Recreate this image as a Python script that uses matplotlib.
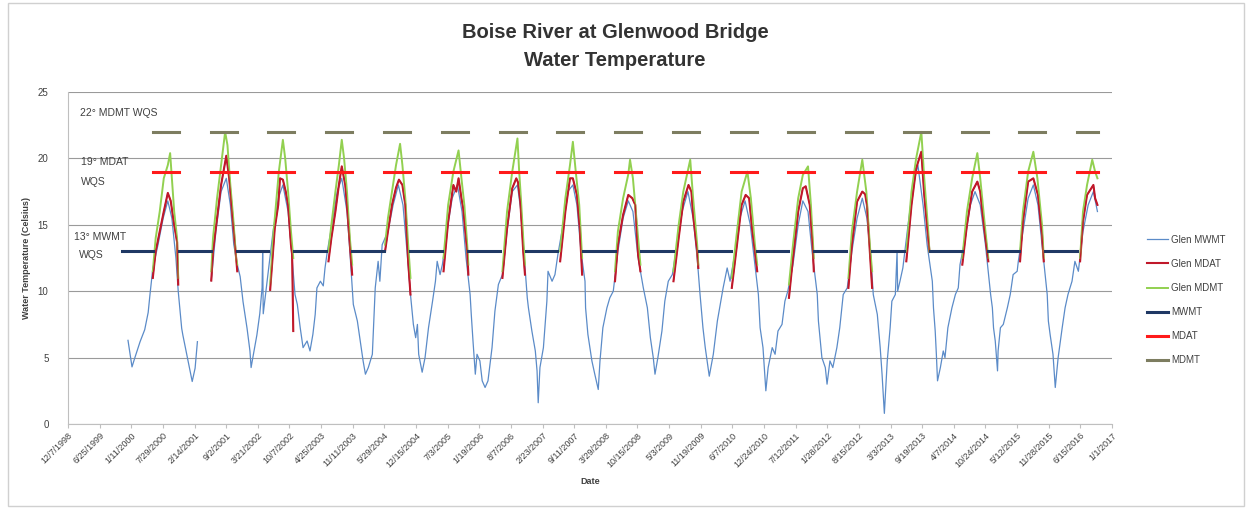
import matplotlib
matplotlib.use('Agg')
import matplotlib.pyplot as plt
import matplotlib.dates as mdates
from matplotlib.patches import Rectangle
import numpy as np
from datetime import datetime, timedelta

# Glen MWMT (decimal year, deg C); None marks the gap in the record
glen_mwmt = [
    (1999.97, 6.3), (2000.04, 4.3), (2000.09, 5.0), (2000.18, 6.2), (2000.26, 7.1), (2000.32, 8.4),
    (2000.35, 9.7), (2000.40, 11.7), (2000.49, 13.5), (2000.58, 15.5), (2000.66, 16.8), (2000.73, 15.5),
    (2000.80, 12.5), (2000.84, 10.0), (2000.90, 7.2), (2000.92, 6.7), (2001.01, 4.7), (2001.08, 3.2),
    (2001.13, 4.2), (2001.17, 6.2), None,
    (2001.41, 10.8), (2001.49, 14.5), (2001.58, 17.5), (2001.67, 18.5), (2001.74, 16.5), (2001.80, 13.5),
    (2001.86, 12.0), (2001.91, 11.1), (2001.96, 9.2), (2002.03, 7.2), (2002.08, 5.5), (2002.10, 4.25),
    (2002.13, 5.0), (2002.20, 6.7), (2002.25, 8.3), (2002.29, 10.25), (2002.30, 13.0), (2002.31, 8.3),
    (2002.39, 11.25), (2002.48, 14.5), (2002.57, 17.0), (2002.65, 18.0), (2002.74, 16.0), (2002.81, 12.5),
    (2002.86, 9.75), (2002.90, 9.0), (2002.95, 7.25), (2003.00, 5.75), (2003.07, 6.25), (2003.12, 5.5),
    (2003.17, 6.75), (2003.21, 8.25), (2003.24, 10.25), (2003.30, 10.75), (2003.35, 10.4), (2003.38, 11.75),
    (2003.42, 13.0), (2003.50, 15.0), (2003.59, 17.5), (2003.67, 18.5), (2003.76, 16.0), (2003.81, 13.0),
    (2003.87, 9.0), (2003.94, 7.75), (2003.99, 6.25), (2004.04, 4.75), (2004.08, 3.75), (2004.13, 4.25),
    (2004.20, 5.25), (2004.23, 8.25), (2004.25, 10.25), (2004.30, 12.25), (2004.33, 10.75), (2004.37, 13.5),
    (2004.47, 14.5), (2004.56, 16.5), (2004.65, 18.0), (2004.73, 16.5), (2004.80, 13.0), (2004.86, 9.75),
    (2004.91, 7.5), (2004.95, 6.5), (2004.98, 7.5), (2005.00, 5.25), (2005.06, 3.9), (2005.11, 5.0),
    (2005.17, 7.25), (2005.24, 9.25), (2005.29, 10.75), (2005.32, 12.25), (2005.37, 11.25), (2005.41, 12.0),
    (2005.49, 14.5), (2005.58, 17.0), (2005.67, 18.0), (2005.75, 16.0), (2005.82, 12.5), (2005.89, 9.75),
    (2005.91, 8.25), (2005.94, 6.25), (2005.98, 3.75), (2006.01, 5.25), (2006.06, 4.75), (2006.10, 3.25),
    (2006.15, 2.75), (2006.20, 3.25), (2006.27, 5.75), (2006.32, 8.5), (2006.38, 10.5), (2006.45, 11.25),
    (2006.53, 14.5), (2006.62, 17.5), (2006.71, 18.0), (2006.77, 16.0), (2006.83, 12.5), (2006.88, 9.5),
    (2006.90, 8.75), (2006.96, 7.0), (2007.02, 5.5), (2007.05, 4.0), (2007.07, 1.6), (2007.10, 4.25),
    (2007.16, 5.75), (2007.22, 9.25), (2007.24, 11.5), (2007.31, 10.75), (2007.36, 11.25), (2007.41, 12.75),
    (2007.50, 15.0), (2007.58, 17.5), (2007.67, 18.0), (2007.74, 16.5), (2007.81, 13.0), (2007.88, 10.75),
    (2007.89, 8.75), (2007.93, 6.75), (2008.00, 4.75), (2008.05, 3.75), (2008.11, 2.6), (2008.14, 4.75),
    (2008.19, 7.25), (2008.26, 8.75), (2008.31, 9.5), (2008.37, 10.0), (2008.45, 13.0), (2008.54, 15.5),
    (2008.63, 16.8), (2008.71, 16.0), (2008.80, 12.5), (2008.89, 10.25), (2008.96, 8.75), (2009.01, 6.5),
    (2009.06, 5.0), (2009.09, 3.75), (2009.14, 5.0), (2009.21, 7.0), (2009.26, 9.25), (2009.32, 10.75),
    (2009.39, 11.25), (2009.47, 13.5), (2009.56, 16.0), (2009.66, 17.5), (2009.75, 15.5), (2009.82, 12.5),
    (2009.87, 9.75), (2009.92, 7.25), (2009.96, 5.75), (2010.01, 4.25), (2010.03, 3.6), (2010.10, 5.25),
    (2010.17, 7.75), (2010.22, 9.0), (2010.27, 10.25), (2010.34, 11.75), (2010.39, 10.75), (2010.48, 13.0),
    (2010.56, 15.5), (2010.65, 16.8), (2010.74, 15.0), (2010.82, 12.0), (2010.88, 9.75), (2010.91, 7.25),
    (2010.96, 5.75), (2011.01, 2.5), (2011.05, 4.25), (2011.12, 5.75), (2011.17, 5.25), (2011.22, 7.0),
    (2011.29, 7.5), (2011.34, 9.25), (2011.39, 10.0), (2011.48, 12.0), (2011.57, 15.0), (2011.65, 16.8),
    (2011.74, 16.0), (2011.81, 13.0), (2011.90, 9.75), (2011.92, 7.75), (2011.98, 5.0), (2012.04, 4.25),
    (2012.07, 3.0), (2012.12, 4.75), (2012.17, 4.25), (2012.24, 5.75), (2012.29, 7.25), (2012.35, 9.75),
    (2012.42, 10.25), (2012.50, 13.0), (2012.59, 15.5), (2012.68, 17.0), (2012.76, 15.5), (2012.83, 12.5),
    (2012.87, 9.75), (2012.94, 8.25), (2012.99, 5.75), (2013.02, 3.75), (2013.06, 0.8), (2013.11, 4.75),
    (2013.16, 7.25), (2013.19, 9.25), (2013.25, 9.75), (2013.28, 13.0), (2013.29, 10.0), (2013.33, 10.75),
    (2013.38, 11.75), (2013.47, 15.0), (2013.56, 18.0), (2013.64, 19.5), (2013.73, 16.5), (2013.80, 13.5),
    (2013.89, 10.75), (2013.91, 8.75), (2013.94, 7.0), (2013.96, 5.25), (2013.98, 3.25), (2014.03, 4.25),
    (2014.08, 5.5), (2014.11, 5.0), (2014.16, 7.25), (2014.23, 8.75), (2014.29, 9.75), (2014.34, 10.25),
    (2014.37, 12.0), (2014.46, 14.0), (2014.55, 16.5), (2014.63, 17.5), (2014.72, 16.5), (2014.81, 13.5),
    (2014.90, 9.75), (2014.93, 8.75), (2014.95, 7.25), (2014.98, 6.25), (2015.02, 4.0), (2015.03, 5.5),
    (2015.07, 7.25), (2015.12, 7.5), (2015.19, 8.75), (2015.24, 9.75), (2015.29, 11.25), (2015.36, 11.5),
    (2015.38, 12.25), (2015.46, 14.5), (2015.55, 17.0), (2015.64, 18.0), (2015.72, 16.5), (2015.79, 13.5),
    (2015.88, 9.75), (2015.90, 7.75), (2015.93, 6.75), (2015.98, 5.25), (2016.02, 2.75), (2016.07, 5.0),
    (2016.14, 7.25), (2016.19, 8.75), (2016.24, 9.75), (2016.31, 10.75), (2016.36, 12.25), (2016.42, 11.5),
    (2016.50, 14.5), (2016.59, 16.5), (2016.68, 17.5), (2016.75, 16.0),
]

# Glen MDAT, summer only
glen_mdat = [
    (2000.40, 11.0), (2000.45, 13.0), (2000.52, 14.5), (2000.59, 16.0), (2000.66, 17.4), (2000.71, 16.8),
    (2000.77, 15.0), (2000.82, 13.7), (2000.84, 10.5), None,
    (2001.41, 10.8), (2001.44, 13.0), (2001.51, 15.5), (2001.58, 18.0), (2001.63, 19.2), (2001.67, 20.2),
    (2001.72, 18.5), (2001.77, 16.0), (2001.82, 13.5), (2001.86, 11.5), None,
    (2002.43, 10.1), (2002.48, 13.0), (2002.51, 14.75), (2002.57, 16.5), (2002.60, 18.5), (2002.65, 18.4),
    (2002.70, 17.5), (2002.74, 16.5), (2002.79, 13.5), (2002.81, 12.75), (2002.83, 7.0), None,
    (2003.44, 12.25), (2003.49, 14.0), (2003.56, 16.0), (2003.62, 18.0), (2003.67, 19.4), (2003.73, 18.0),
    (2003.76, 16.5), (2003.81, 13.5), (2003.85, 11.25), None,
    (2004.42, 13.0), (2004.47, 14.5), (2004.54, 16.5), (2004.61, 17.8), (2004.66, 18.4), (2004.72, 18.0),
    (2004.77, 16.5), (2004.82, 12.25), (2004.86, 9.75), None,
    (2005.43, 11.5), (2005.51, 15.25), (2005.60, 18.0), (2005.65, 17.5), (2005.69, 18.5), (2005.74, 17.0),
    (2005.77, 16.25), (2005.84, 13.0), (2005.86, 11.25), None,
    (2006.45, 11.0), (2006.53, 14.75), (2006.62, 17.75), (2006.69, 18.5), (2006.72, 18.2), (2006.76, 16.75),
    (2006.81, 13.0), (2006.84, 11.25), None,
    (2007.45, 12.25), (2007.54, 16.0), (2007.62, 18.5), (2007.67, 18.5), (2007.74, 17.25), (2007.79, 14.75),
    (2007.83, 11.25), None,
    (2008.40, 10.75), (2008.45, 13.5), (2008.54, 15.75), (2008.63, 17.25), (2008.70, 17.0), (2008.75, 16.5),
    (2008.80, 12.75), (2008.84, 11.5), None,
    (2009.41, 10.75), (2009.50, 14.0), (2009.58, 16.75), (2009.67, 18.0), (2009.72, 17.5), (2009.75, 15.75),
    (2009.82, 13.0), (2009.84, 11.75), None,
    (2010.42, 10.25), (2010.51, 13.5), (2010.59, 16.5), (2010.66, 17.25), (2010.72, 17.0), (2010.77, 14.75),
    (2010.82, 13.0), (2010.86, 11.5), None,
    (2011.41, 9.5), (2011.48, 12.5), (2011.57, 16.0), (2011.65, 17.75), (2011.70, 17.9), (2011.77, 16.5),
    (2011.82, 13.5), (2011.84, 11.5), None,
    (2012.44, 10.25), (2012.50, 13.5), (2012.59, 16.75), (2012.68, 17.5), (2012.73, 17.3), (2012.76, 16.5),
    (2012.81, 13.0), (2012.85, 10.25), None,
    (2013.44, 12.25), (2013.53, 16.5), (2013.61, 19.25), (2013.70, 20.5), (2013.75, 17.25), (2013.82, 14.0),
    (2013.84, 13.0), None,
    (2014.41, 12.0), (2014.49, 15.0), (2014.58, 17.5), (2014.67, 18.25), (2014.72, 17.5), (2014.75, 16.25),
    (2014.81, 14.0), (2014.86, 12.25), None,
    (2015.41, 12.25), (2015.46, 15.25), (2015.55, 18.25), (2015.64, 18.5), (2015.72, 17.25), (2015.79, 14.25),
    (2015.82, 12.25), None,
    (2016.45, 12.25), (2016.50, 15.25), (2016.57, 17.25), (2016.68, 18.0), (2016.71, 17.0), (2016.75, 16.5),
]

# Glen MDMT, summer only
glen_mdmt = [
    (2000.40, 11.5), (2000.45, 14.0), (2000.52, 16.0), (2000.59, 18.5), (2000.66, 19.5), (2000.70, 20.4),
    (2000.73, 18.5), (2000.77, 16.0), (2000.82, 14.0), (2000.84, 11.0), None,
    (2001.41, 11.5), (2001.44, 14.0), (2001.51, 17.0), (2001.58, 19.5), (2001.65, 22.0), (2001.69, 21.0),
    (2001.74, 18.0), (2001.79, 15.5), (2001.84, 12.5), (2001.86, 12.0), None,
    (2002.43, 10.5), (2002.48, 14.0), (2002.53, 16.5), (2002.58, 19.0), (2002.65, 21.4), (2002.69, 20.0),
    (2002.74, 17.5), (2002.79, 14.5), (2002.83, 12.5), None,
    (2003.44, 13.0), (2003.49, 15.0), (2003.56, 17.5), (2003.62, 19.5), (2003.67, 21.4), (2003.71, 20.0),
    (2003.76, 17.5), (2003.81, 14.0), (2003.85, 12.0), None,
    (2004.42, 13.5), (2004.47, 15.5), (2004.54, 17.5), (2004.61, 19.5), (2004.68, 21.1), (2004.72, 19.5),
    (2004.77, 17.0), (2004.82, 13.5), (2004.86, 11.0), None,
    (2005.43, 12.5), (2005.51, 16.5), (2005.60, 19.0), (2005.69, 20.6), (2005.74, 18.5), (2005.79, 16.5),
    (2005.84, 13.5), (2005.86, 12.0), None,
    (2006.45, 11.5), (2006.53, 16.0), (2006.62, 19.0), (2006.71, 21.5), (2006.74, 19.0), (2006.77, 17.0),
    (2006.81, 14.0), (2006.84, 12.0), None,
    (2007.45, 13.0), (2007.54, 17.0), (2007.62, 19.5), (2007.67, 21.25), (2007.72, 19.0), (2007.78, 16.5),
    (2007.83, 12.5), None,
    (2008.40, 11.5), (2008.45, 14.5), (2008.54, 17.0), (2008.63, 18.8), (2008.66, 19.9), (2008.71, 18.5),
    (2008.77, 15.5), (2008.84, 12.0), None,
    (2009.41, 11.5), (2009.50, 15.0), (2009.58, 17.5), (2009.70, 19.9), (2009.75, 17.0), (2009.82, 13.5),
    (2009.84, 12.0), None,
    (2010.42, 11.0), (2010.51, 14.5), (2010.59, 17.5), (2010.69, 19.0), (2010.75, 17.0), (2010.82, 13.5),
    (2010.86, 12.0), None,
    (2011.41, 10.5), (2011.48, 13.5), (2011.57, 17.0), (2011.65, 18.75), (2011.74, 19.4), (2011.79, 16.5),
    (2011.84, 12.5), None,
    (2012.44, 11.0), (2012.50, 14.5), (2012.59, 17.5), (2012.68, 19.9), (2012.75, 17.5), (2012.81, 13.5),
    (2012.85, 11.5), None,
    (2013.44, 13.0), (2013.53, 17.5), (2013.61, 20.0), (2013.70, 22.0), (2013.75, 18.5), (2013.82, 14.5),
    (2013.84, 13.0), None,
    (2014.41, 12.5), (2014.49, 16.0), (2014.58, 18.5), (2014.67, 20.4), (2014.72, 18.5), (2014.81, 14.5),
    (2014.86, 12.5), None,
    (2015.41, 13.0), (2015.46, 16.0), (2015.55, 19.0), (2015.64, 20.5), (2015.71, 18.5), (2015.79, 15.0),
    (2015.82, 12.5), None,
    (2016.45, 12.5), (2016.50, 16.0), (2016.57, 18.0), (2016.66, 19.9), (2016.71, 19.0), (2016.75, 18.5),
]

# water quality standards and the seasons they apply to
mwmt_wqs = 13
mdat_wqs = 19
mdmt_wqs = 22
wqs_years = list(range(2000, 2017))
summer_start = 0.40
summer_end = 0.85
wqs_first = 1999.87
wqs_last = 2016.76

# x axis: Excel date axis, 200 day major unit
axis_start = datetime(1998, 12, 7)
axis_days = 6600
tick_step = 200
tick_labels = ['12/7/1998', '6/25/1999', '1/11/2000', '7/29/2000', '2/14/2001', '9/2/2001', '3/21/2002',
               '10/7/2002', '4/25/2003', '11/11/2003', '5/29/2004', '12/15/2004', '7/3/2005', '1/19/2006',
               '8/7/2006', '2/23/2007', '9/11/2007', '3/29/2008', '10/15/2008', '5/3/2009', '11/19/2009',
               '6/7/2010', '12/24/2010', '7/12/2011', '1/28/2012', '8/15/2012', '3/3/2013', '9/19/2013',
               '4/7/2014', '10/24/2014', '5/12/2015', '11/28/2015', '6/15/2016', '1/1/2017']


def yr2num(y):
    year = int(y)
    d = datetime(year, 1, 1) + timedelta(days=(y - year) * 365.25)
    return mdates.date2num(d)


def split_series(rows):
    xs, ys = [], []
    for r in rows:
        if r is None:
            xs.append(np.nan)
            ys.append(np.nan)
        else:
            xs.append(yr2num(r[0]))
            ys.append(r[1])
    return np.array(xs), np.array(ys)


def segments(spans, value):
    xs, ys = [], []
    for a, b in spans:
        xs += [yr2num(a), yr2num(b), np.nan]
        ys += [value, value, np.nan]
    return xs, ys


summer = [(y + summer_start, min(y + summer_end, wqs_last)) for y in wqs_years]
winter = [(wqs_first, wqs_years[0] + summer_start)] + \
         [(y + summer_end, y + 1 + summer_start) for y in wqs_years[:-1]]

W, H = 1251, 518
fig = plt.figure(figsize=(W / 100, H / 100), dpi=100)
plt.rcParams['font.family'] = ['Liberation Sans', 'DejaVu Sans']
fig.patches.append(Rectangle((8 / W, 1 - 506 / H), 1236 / W, 503 / H, transform=fig.transFigure,
                             fill=False, edgecolor='#d0d0d0', lw=1))

ax = fig.add_axes([68 / W, 1 - 424 / H, (1112 - 68) / W, (424 - 92) / H])

x, y = split_series(glen_mwmt)
ax.plot(x, y, color='#5b8bc8', lw=0.9, label='Glen MWMT', zorder=3)
x, y = split_series(glen_mdat)
ax.plot(x, y, color='#c0182a', lw=1.5, label='Glen MDAT', zorder=4)
x, y = split_series(glen_mdmt)
ax.plot(x, y, color='#92d050', lw=1.4, label='Glen MDMT', zorder=5)
# red drawn again thinly on top so both traces show through, as in the source
x, y = split_series(glen_mdat)
ax.plot(x, y, color='#c0182a', lw=0.8, zorder=5.5)

x, y = segments(winter, mwmt_wqs)
ax.plot(x, y, color='#1f3864', lw=2.2, label='MWMT', zorder=6)
x, y = segments(summer, mdat_wqs)
ax.plot(x, y, color='#ff1a1a', lw=2.2, label='MDAT', zorder=6)
x, y = segments(summer, mdmt_wqs)
ax.plot(x, y, color='#7d7d60', lw=2.2, label='MDMT', zorder=6)

x0 = mdates.date2num(axis_start)
ax.set_xlim(x0, x0 + axis_days)
ax.set_ylim(0, 25)
ax.set_xticks([x0 + i * tick_step for i in range(len(tick_labels))])
ax.set_xticklabels(tick_labels, rotation=45, ha='right', rotation_mode='anchor',
                   fontsize=6.5, color='#404040')
ax.set_yticks([0, 5, 10, 15, 20, 25])
ax.tick_params(axis='y', length=0, pad=14, labelsize=7, labelcolor='#404040')
ax.tick_params(axis='x', length=3, color='#bfbfbf', pad=2)
ax.yaxis.grid(True, color='#9a9a9a', lw=0.8)
ax.set_axisbelow(True)
for s in ['top', 'right']:
    ax.spines[s].set_visible(False)
for s in ['left', 'bottom']:
    ax.spines[s].set_color('#bfbfbf')

ax.set_xlabel('Date', fontsize=6.5, fontweight='bold', color='#404040', labelpad=6)
ax.set_ylabel('Water Temperature (Celsius)', fontsize=6.5, fontweight='bold', color='#404040', labelpad=5)

fig.text(615 / W, 1 - 33 / H, 'Boise River at Glenwood Bridge', ha='center', va='center',
         fontsize=14.5, fontweight='bold', color='#333333')
fig.text(615 / W, 1 - 60 / H, 'Water Temperature', ha='center', va='center',
         fontsize=14.5, fontweight='bold', color='#333333')

ann = dict(fontsize=7.5, color='#404040', va='center', ha='left')
fig.text(80 / W, 1 - 113 / H, '22\u00b0 MDMT WQS', **ann)
fig.text(81 / W, 1 - 162 / H, '19\u00b0 MDAT', **ann)
fig.text(81 / W, 1 - 182 / H, 'WQS', **ann)
fig.text(74 / W, 1 - 237 / H, '13\u00b0 MWMT', **ann)
fig.text(79 / W, 1 - 255 / H, 'WQS', **ann)

fig.legend(loc='center left', bbox_to_anchor=(1138 / W, 1 - 300 / H), frameon=False,
           fontsize=7, labelspacing=1.45, handlelength=2.2, handletextpad=0.3, labelcolor='#404040')

fig.savefig('out.png', dpi=100)
